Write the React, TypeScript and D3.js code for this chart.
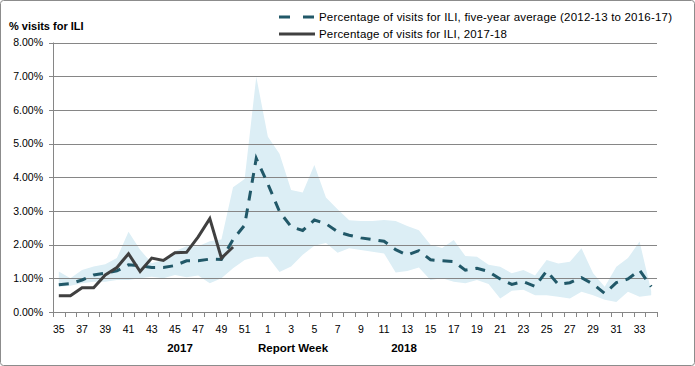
import React from 'react';
import * as d3 from 'd3';

// Report weeks, 2017 week 35 through 2018 week 34
const weeks = [
  '35', '36', '37', '38', '39', '40', '41', '42', '43', '44', '45', '46', '47', '48', '49', '50', '51', '52',
  '1', '2', '3', '4', '5', '6', '7', '8', '9', '10', '11', '12', '13', '14', '15', '16', '17',
  '18', '19', '20', '21', '22', '23', '24', '25', '26', '27', '28', '29', '30', '31', '32', '33', '34',
];

// five-year average (2012-13 to 2016-17), % of visits
const avgValues = [
  0.81, 0.84, 0.95, 1.1, 1.15, 1.22, 1.4, 1.37, 1.32, 1.32, 1.38, 1.52, 1.52, 1.57, 1.56, 2.15, 2.58, 4.56,
  3.8, 2.98, 2.53, 2.42, 2.73, 2.62, 2.38, 2.28, 2.2, 2.15, 2.1, 1.85, 1.69, 1.82, 1.55, 1.52, 1.5,
  1.24, 1.3, 1.2, 0.98, 0.82, 0.9, 0.76, 1.22, 0.82, 0.87, 1.02, 0.83, 0.55, 0.87, 0.98, 1.24, 0.75,
];

// range of the five seasons (shaded band)
const bandHigh = [
  1.2, 1.0, 1.25, 1.35, 1.42, 1.6, 2.38, 1.85, 1.45, 1.55, 1.8, 1.95, 1.95, 2.1, 2.15, 3.7, 3.95, 6.98,
  5.2, 4.7, 3.62, 3.55, 4.36, 3.4, 3.05, 2.72, 2.7, 2.7, 2.73, 2.7, 2.55, 2.43, 2.0, 1.9, 2.14,
  1.66, 1.64, 1.4, 1.34, 1.15, 1.25, 1.08, 1.54, 1.44, 1.49, 1.89, 1.15, 0.75, 1.34, 1.6, 2.09, 0.62,
];
const bandLow = [
  0.75, 0.78, 0.85, 0.9, 0.9, 0.95, 0.95, 1.0, 1.05, 1.0, 1.1, 1.03, 1.08, 0.85, 1.0, 1.3, 1.54, 1.64,
  1.64, 1.19, 1.35, 1.7, 1.97, 2.05, 1.76, 1.89, 1.84, 1.79, 1.74, 1.17, 1.22, 1.32, 0.95, 1.0, 0.9,
  0.85, 0.95, 0.83, 0.4, 0.63, 0.66, 0.5, 0.5, 0.45, 0.4, 0.6, 0.5, 0.36, 0.3, 0.6, 0.45, 0.5,
];

// 2017-18 season so far (weeks 35-50)
const currentValues = [0.48, 0.48, 0.72, 0.72, 1.1, 1.32, 1.73, 1.2, 1.6, 1.53, 1.76, 1.77, 2.23, 2.77, 1.6, 1.93];

const yTicks = [0, 1, 2, 3, 4, 5, 6, 7, 8];

const W = 695;
const H = 366;
const FONT = '"Liberation Sans", Arial, sans-serif';
const GRID = '#868686';
const DASH = '#215868';
const SOLID = '#404040';
const BAND = '#dceef5';

export default function App() {
  const x = d3.scaleBand<string>().domain(weeks).range([53, 657]);
  const y = d3.scaleLinear().domain([0, 8]).range([312, 42.5]);
  const cx = (i: number) => (x(weeks[i]) as number) + x.bandwidth() / 2;

  const area = d3
    .area<number>()
    .x((_, i) => cx(i))
    .y0((_, i) => y(bandLow[i]))
    .y1((d) => y(d));

  const line = d3
    .line<number>()
    .x((_, i) => cx(i))
    .y((d) => y(d));

  const fmt = d3.format('.2%');
  const step = x.step();

  return (
    <svg width={W} height={H} style={{ position: 'absolute', left: 0, top: 0 }} fontFamily={FONT}>
      <rect x={0} y={0} width={W} height={H} fill="#fff" />
      <rect x={0.5} y={0.5} width={W - 1} height={H - 1} rx={3} fill="none" stroke="#8c8c8c" />

      {/* band */}
      <path d={area(bandHigh) || ''} fill={BAND} />

      {/* gridlines */}
      {yTicks.slice(1).map((t) => (
        <line key={t} x1={53} x2={657} y1={Math.round(y(t)) + 0.5} y2={Math.round(y(t)) + 0.5} stroke={GRID} />
      ))}

      {/* y axis */}
      <line x1={53.5} x2={53.5} y1={y(8)} y2={y(0)} stroke={GRID} />
      {yTicks.map((t) => (
        <g key={t}>
          <line x1={49} x2={53} y1={Math.round(y(t)) + 0.5} y2={Math.round(y(t)) + 0.5} stroke={GRID} />
          <text x={43} y={y(t)} dy="0.35em" textAnchor="end" fontSize={10.5} fill="#000">
            {fmt(t / 100)}
          </text>
        </g>
      ))}

      {/* x axis */}
      <line x1={53} x2={657} y1={312.5} y2={312.5} stroke={GRID} />
      {d3.range(weeks.length + 1).map((i) => (
        <line key={i} x1={Math.round(53 + i * step) + 0.5} x2={Math.round(53 + i * step) + 0.5} y1={312} y2={317} stroke={GRID} />
      ))}
      {weeks.map((w, i) =>
        i % 2 === 0 ? (
          <text key={w} x={cx(i)} y={333} textAnchor="middle" fontSize={10.5} fill="#000">
            {w}
          </text>
        ) : null
      )}
      <text x={180} y={352} textAnchor="middle" fontSize={11.5} fontWeight="bold" fill="#000">2017</text>
      <text x={293} y={352} textAnchor="middle" fontSize={11.5} fontWeight="bold" fill="#000">Report Week</text>
      <text x={404} y={352} textAnchor="middle" fontSize={11.5} fontWeight="bold" fill="#000">2018</text>

      {/* series */}
      <path d={line(avgValues) || ''} fill="none" stroke={DASH} strokeWidth={3} strokeDasharray="10,8" />
      <path d={line(currentValues) || ''} fill="none" stroke={SOLID} strokeWidth={3} strokeLinejoin="miter" />

      {/* y title */}
      <text x={9} y={30} fontSize={11} fontWeight="bold" fill="#000">% visits for ILI</text>

      {/* legend */}
      <line x1={279} x2={315} y1={17} y2={17} stroke={DASH} strokeWidth={3} strokeDasharray="11,13" />
      <text x={319} y={17} dy="0.35em" fontSize={11.5} fill="#000" textLength={353} lengthAdjust="spacing">
        Percentage of visits for ILI, five-year average (2012-13 to 2016-17)
      </text>
      <line x1={279} x2={315} y1={34} y2={34} stroke={SOLID} strokeWidth={3} />
      <text x={319} y={34} dy="0.35em" fontSize={11.5} fill="#000" textLength={188} lengthAdjust="spacing">
        Percentage of visits for ILI, 2017-18
      </text>
    </svg>
  );
}
